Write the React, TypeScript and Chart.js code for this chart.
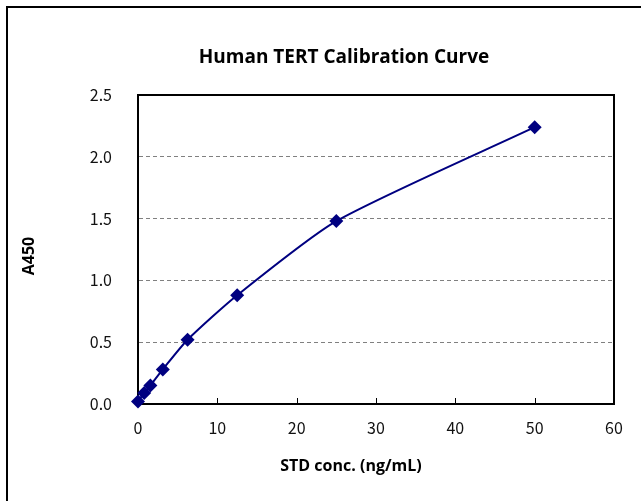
import React, { useEffect, useRef } from "react";
import { Chart, registerables } from "chart.js";

Chart.register(...registerables);

const concentrations = [0, 0.78, 1.56, 3.125, 6.25, 12.5, 25, 50];
const absorbance = [0.02, 0.09, 0.15, 0.28, 0.52, 0.88, 1.48, 2.24];
const titleText = "Human TERT Calibration Curve";
const xTitle = "STD conc. (ng/mL)";
const yTitle = "A450";
const xTickValues = [10, 20, 30, 40, 50];

const NAVY = "#000080";

const decorPlugin = {
  id: "decor",
  beforeDraw(chart: any) {
    const ctx = chart.ctx;
    ctx.save();
    ctx.fillStyle = "#fff";
    ctx.fillRect(0, 0, chart.width, chart.height);
    ctx.strokeStyle = "#000";
    ctx.lineWidth = 2;
    ctx.beginPath();
    ctx.moveTo(7, chart.height);
    ctx.lineTo(7, 7);
    ctx.lineTo(chart.width, 7);
    ctx.stroke();
    ctx.restore();
  },
  beforeDatasetsDraw(chart: any) {
    const { ctx, chartArea } = chart;
    const xs = chart.scales.x;
    ctx.save();
    ctx.strokeStyle = "#000";
    ctx.lineWidth = 2;
    ctx.strokeRect(chartArea.left, chartArea.top, chartArea.right - chartArea.left, chartArea.bottom - chartArea.top);
    ctx.lineWidth = 1;
    ctx.beginPath();
    for (const v of xTickValues) {
      const px = Math.round(xs.getPixelForValue(v)) + 0.5;
      ctx.moveTo(px, chartArea.bottom);
      ctx.lineTo(px, chartArea.bottom - 6);
    }
    ctx.stroke();
    ctx.restore();
  },
  afterDraw(chart: any) {
    const ctx = chart.ctx;
    ctx.save();
    ctx.fillStyle = "#000";
    ctx.textAlign = "center";
    ctx.textBaseline = "middle";
    ctx.font = "bold 19px 'Open Sans'";
    ctx.fillText(titleText, 344, 58);
    ctx.font = "bold 16px 'Open Sans'";
    ctx.fillText(xTitle, 351, 466);
    ctx.translate(29, 256);
    ctx.rotate(-Math.PI / 2);
    ctx.fillText(yTitle, 0, 0);
    ctx.restore();
  },
};

export default function App() {
  const ref = useRef<HTMLCanvasElement | null>(null);
  useEffect(() => {
    if (!ref.current) return;
    const chart = new Chart(ref.current, {
      type: "line",
      data: {
        datasets: [
          {
            data: concentrations.map((c, i) => ({ x: c, y: absorbance[i] })),
            borderColor: NAVY,
            backgroundColor: NAVY,
            borderWidth: 2,
            tension: 0.22,
            clip: false,
            pointStyle: "rectRot",
            pointRadius: 7,
            pointHoverRadius: 7,
            pointBorderWidth: 0,
          },
        ],
      },
      options: {
        animation: false,
        responsive: false,
        layout: { padding: { left: 0, right: 27, top: 95, bottom: 0 } },
        plugins: { legend: { display: false }, title: { display: false }, tooltip: { enabled: false } },
        scales: {
          x: {
            type: "linear",
            min: 0,
            max: 60,
            ticks: {
              stepSize: 10,
              padding: 14,
              color: "#111",
              font: { family: "'Noto Sans CJK JP'", size: 16 },
            },
            grid: { drawOnChartArea: false, drawTicks: false },
            border: { display: true, color: "#000", width: 2 },
            afterFit: (s: any) => {
              s.height = 97;
            },
          },
          y: {
            min: 0,
            max: 2.5,
            ticks: {
              stepSize: 0.5,
              padding: 26,
              color: "#111",
              font: { family: "'Noto Sans CJK JP'", size: 16 },
              callback: (v: any) => Number(v).toFixed(1),
            },
            grid: { color: "#808080", lineWidth: 1, drawTicks: false },
            border: { display: true, color: "#000", width: 2, dash: [4, 3] },
            afterFit: (s: any) => {
              s.width = 138;
            },
          },
        },
      },
      plugins: [decorPlugin],
    });
    return () => chart.destroy();
  }, []);
  return (
    <div style={{ position: "absolute", left: 0, top: 0, width: 641, height: 501 }}>
      <canvas ref={ref} width={641} height={501} style={{ display: "block" }} />
    </div>
  );
}
